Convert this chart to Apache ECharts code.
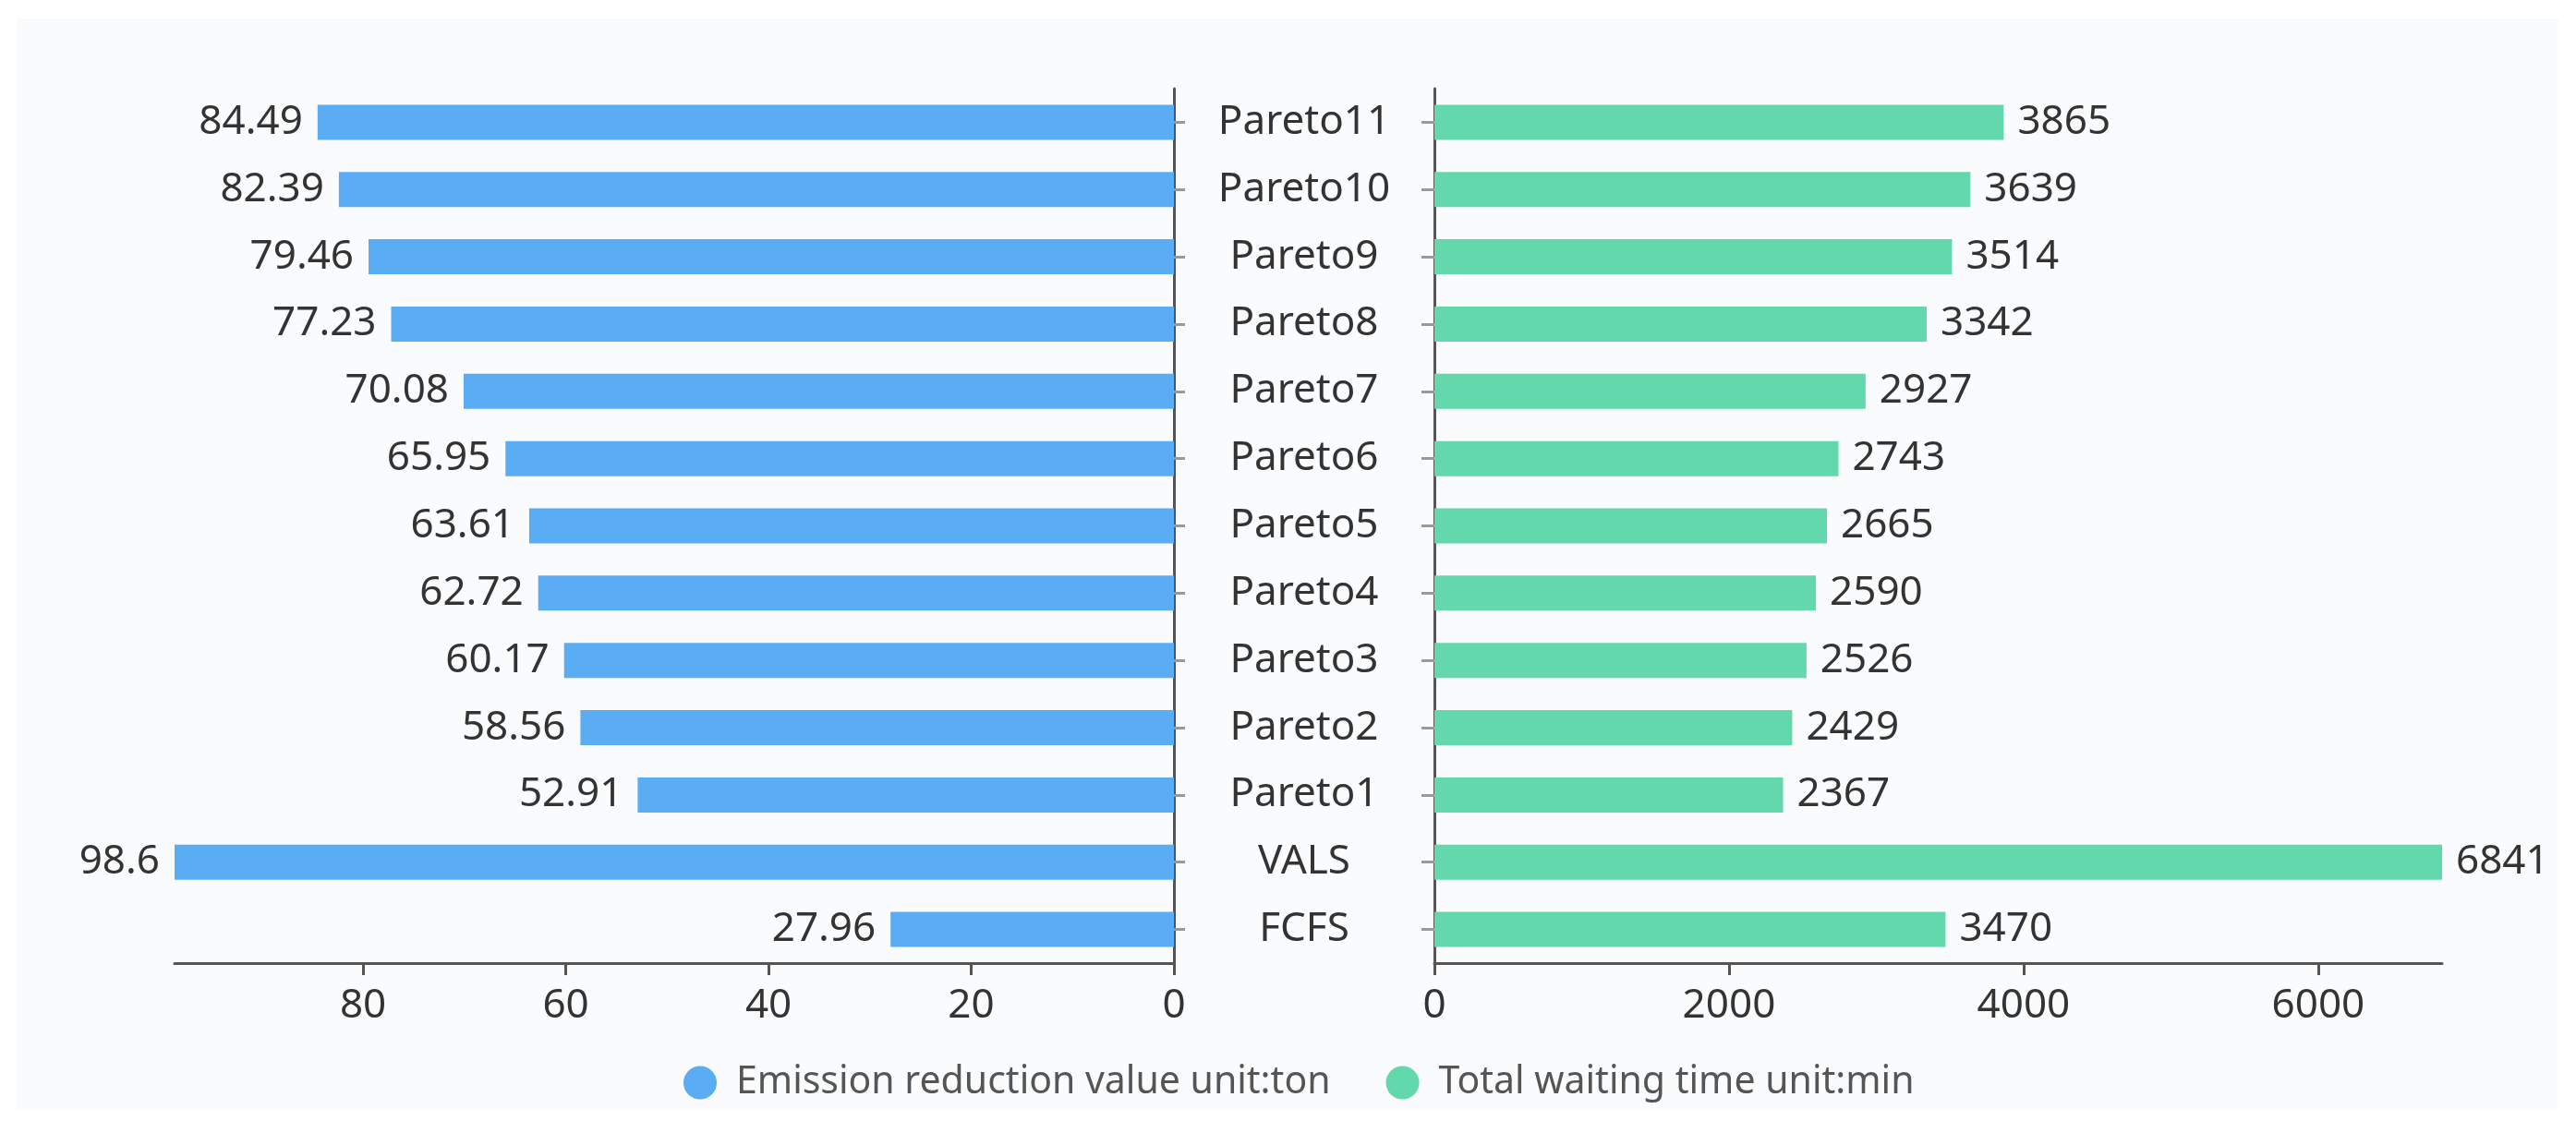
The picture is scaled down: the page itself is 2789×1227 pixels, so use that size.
<!DOCTYPE html>
<html>
<head>
<meta charset="utf-8">
<script src="https://cdn.jsdelivr.net/npm/echarts@6/dist/echarts.min.js"></script>
<style>
html,body{margin:0;padding:0;background:#ffffff;}
#chart{position:absolute;left:18px;top:20px;width:2752px;height:1182px;background:#f9fbfd;}
</style>
</head>
<body>
<div id="chart"></div>
<script>
// bottom-to-top category order
const categories = ['FCFS','VALS','Pareto1','Pareto2','Pareto3','Pareto4','Pareto5','Pareto6','Pareto7','Pareto8','Pareto9','Pareto10','Pareto11'];
const emissionReduction = [27.96, 98.6, 52.91, 58.56, 60.17, 62.72, 63.61, 65.95, 70.08, 77.23, 79.46, 82.39, 84.49];
const waitingTime = [3470, 6841, 2367, 2429, 2526, 2590, 2665, 2743, 2927, 3342, 3514, 3639, 3865];
const leftTicks = [0, 20, 40, 60, 80];
const rightTicks = [0, 2000, 4000, 6000];
const seriesNames = ['Emission reduction value unit:ton', 'Total waiting time unit:min'];

const FONT = 'Noto Sans';
const FS = 44;
const TXT = '#333333';
const AXIS = '#555555';
const blue = '#5aacf3';
const green = '#62d8ac';
const plain = v => String(v);

const chart = echarts.init(document.getElementById('chart'));
chart.setOption({
  animation: false,
  textStyle: {fontFamily: FONT},
  legend: {
    left: 717, top: 1127,
    itemWidth: 36, itemHeight: 36, itemGap: 60,
    icon: 'circle',
    textStyle: {fontFamily: FONT, fontSize: 41, color: '#555555', padding: [0,0,0,16]},
    data: seriesNames
  },
  grid: [
    {left: 171, top: 76, width: 1082, height: 947, containLabel: false},
    {left: 1535, top: 76, width: 1091, height: 947, containLabel: false}
  ],
  xAxis: [
    {
      gridIndex: 0, type: 'value', inverse: true, min: 0, max: 'dataMax', interval: 20,
      splitLine: {show: false},
      axisLine: {show: true, lineStyle: {color: AXIS, width: 3}},
      axisTick: {show: true, length: 13, lineStyle: {color: AXIS, width: 3}, customValues: leftTicks},
      axisLabel: {fontFamily: FONT, fontSize: FS, color: TXT, margin: 24, formatter: plain, customValues: leftTicks}
    },
    {
      gridIndex: 1, type: 'value', min: 0, max: 'dataMax', interval: 2000,
      splitLine: {show: false},
      axisLine: {show: true, lineStyle: {color: AXIS, width: 3}},
      axisTick: {show: true, length: 13, lineStyle: {color: AXIS, width: 3}, customValues: rightTicks},
      axisLabel: {fontFamily: FONT, fontSize: FS, color: TXT, margin: 24, formatter: plain, customValues: rightTicks}
    }
  ],
  yAxis: [
    {
      gridIndex: 0, type: 'category', position: 'right', data: categories,
      axisLine: {show: true, lineStyle: {color: AXIS, width: 3}},
      axisTick: {show: true, alignWithLabel: true, length: 12, lineStyle: {color: '#999999', width: 3}},
      axisLabel: {fontFamily: FONT, fontSize: FS, color: TXT, align: 'center', margin: 141}
    },
    {
      gridIndex: 1, type: 'category', position: 'left', data: categories,
      axisLine: {show: true, lineStyle: {color: AXIS, width: 3}},
      axisTick: {show: true, alignWithLabel: true, length: 14, lineStyle: {color: '#999999', width: 3}},
      axisLabel: {show: false}
    }
  ],
  series: [
    {
      name: seriesNames[0], type: 'bar', xAxisIndex: 0, yAxisIndex: 0,
      data: emissionReduction, barWidth: 38,
      itemStyle: {color: blue},
      label: {show: true, position: 'left', distance: 16, fontFamily: FONT, fontSize: FS, color: TXT}
    },
    {
      name: seriesNames[1], type: 'bar', xAxisIndex: 1, yAxisIndex: 1,
      data: waitingTime, barWidth: 38,
      itemStyle: {color: green},
      label: {show: true, position: 'right', distance: 15, fontFamily: FONT, fontSize: FS, color: TXT}
    }
  ]
});
</script>
</body>
</html>
